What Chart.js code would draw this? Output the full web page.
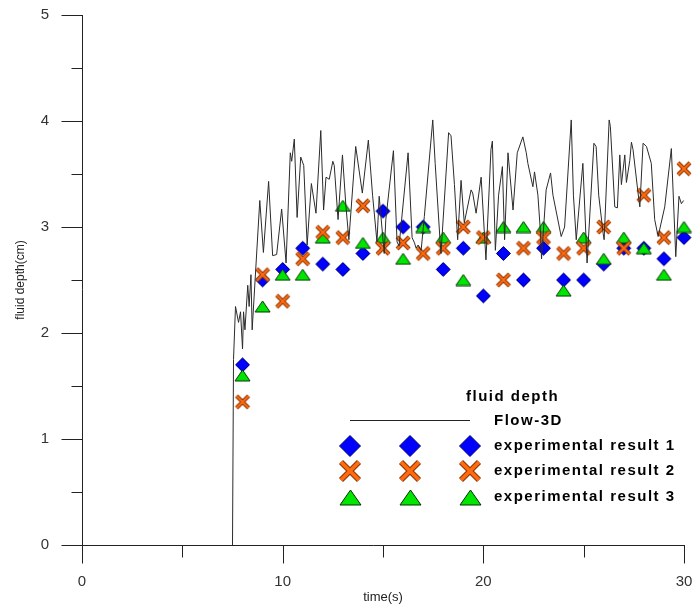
<!DOCTYPE html>
<html>
<head>
<meta charset="utf-8">
<script src="https://cdn.jsdelivr.net/npm/chart.js@4.4.0/dist/chart.umd.min.js"></script>
<style>
  html, body { margin: 0; padding: 0; background: #fff; }
  #grafico { display: block; }
</style>
</head>
<body>
<canvas id="grafico" width="696" height="607"></canvas>
<script>
// Flow-3D simulation (time in s, depth in cm)
const flowTime = [
  7.5, 7.55, 7.65, 7.8, 7.9, 8.0, 8.05, 8.12, 8.26, 8.33, 8.42, 8.48,
  8.86, 9.04, 9.3, 9.5, 9.7, 9.95, 10.17, 10.38, 10.45, 10.58, 10.72, 10.9,
  11.05, 11.22, 11.43, 11.66, 11.9, 12.04, 12.16, 12.32, 12.5, 12.57, 12.76, 12.98,
  13.15, 13.3, 13.64, 13.97, 14.27, 14.48, 14.7, 14.81, 15.06, 15.14, 15.52, 15.7,
  15.8, 16.25, 16.45, 16.57, 16.65, 16.75, 16.9, 17.06, 17.48, 17.6, 17.84, 17.89,
  18.27, 18.39, 18.56, 18.72, 18.89, 19.05, 19.39, 19.47, 19.64, 19.89, 20.13, 20.38,
  20.45, 20.6, 20.76, 20.95, 21.06, 21.23, 21.48, 21.69, 21.97, 22.14, 22.22, 22.47,
  22.55, 22.72, 22.85, 22.9, 23.13, 23.35, 23.47, 23.88, 24.05, 24.38, 24.49, 24.63,
  24.96, 25.17, 25.51, 25.62, 25.75, 25.97, 26.02, 26.27, 26.33, 26.55, 26.68, 26.8,
  26.88, 27.05, 27.13, 27.3, 27.38, 27.46, 27.71, 27.8, 27.96, 28.13, 28.37, 28.54,
  28.71, 29.04, 29.37, 29.59, 29.75, 29.87, 29.98
];
const flowDepth = [
  0, 1.75, 2.25, 2.1, 2.2, 1.85, 2.2, 2.03, 2.45, 2.25, 2.55, 2.03,
  3.25, 2.76, 3.43, 2.73, 2.74, 3.17, 2.66, 3.7, 3.62, 3.83, 3.09, 3.66,
  3.58, 2.83, 3.41, 3.13, 3.91, 3.16, 3.47, 3.45, 3.62, 3.58, 3.07, 3.68,
  3.2, 2.88, 3.76, 3.32, 3.82, 3.3, 2.86, 3.29, 2.75, 3.07, 3.72, 2.86,
  2.82, 3.7, 2.9, 2.85, 2.8, 2.83, 2.78, 3.1, 4.01, 3.6, 2.88, 2.75,
  3.89, 3.86, 3.4, 2.88, 3.44, 3.04, 3.35, 3.32, 3.13, 3.47, 2.69, 3.73,
  3.81, 2.78, 3.3, 3.57, 2.88, 3.7, 3.16, 3.7, 3.85, 3.7, 3.6, 3.38,
  3.52, 3.3, 2.94, 2.7, 3.35, 3.51, 3.3, 2.91, 3.0, 4.01, 3.3, 2.88,
  3.6, 2.66, 3.79, 3.76, 3.3, 2.94, 2.88, 4.01, 3.95, 3.19, 3.18, 3.68,
  3.4, 3.68, 3.42, 3.63, 3.8, 3.73, 3.32, 3.19, 3.79, 3.76, 3.6, 3.07,
  2.91, 3.19, 3.74, 2.72, 3.29, 3.22, 3.25
];

// experiments, one reading per second
const expTime = [8, 9, 10, 11, 12, 13, 14, 15, 16, 17, 18, 19, 20, 21, 22, 23, 24, 25, 26, 27, 28, 29, 30];
const exp1 = [1.7, 2.5, 2.6, 2.8, 2.65, 2.6, 2.75, 3.15, 3.0, 3.0, 2.6, 2.8, 2.35, 2.75, 2.5, 2.8, 2.5, 2.5, 2.65, 2.8, 2.8, 2.7, 2.9];
const exp2 = [1.35, 2.55, 2.3, 2.7, 2.95, 2.9, 3.2, 2.8, 2.85, 2.75, 2.8, 3.0, 2.9, 2.5, 2.8, 2.9, 2.75, 2.8, 3.0, 2.8, 3.3, 2.9, 3.55];
const exp3 = [1.6, 2.25, 2.55, 2.55, 2.9, 3.2, 2.85, 2.9, 2.7, 3.0, 2.9, 2.5, 2.9, 3.0, 3.0, 3.0, 2.4, 2.9, 2.7, 2.9, 2.8, 2.55, 3.0];

const xTickLabels = [0, 10, 20, 30];
const yTickLabels = [0, 1, 2, 3, 4, 5];
const legendLabels = ["Flow-3D", "experimental result 1", "experimental result 2", "experimental result 3"];

// --- marcadores desenhados em canvas ---
function losango(meia) {
  const c = document.createElement("canvas");
  const lado = Math.ceil(meia * 2) + 3;
  c.width = c.height = lado;
  const g = c.getContext("2d");
  const m = lado / 2;
  g.beginPath();
  g.moveTo(m, m - meia);
  g.lineTo(m + meia, m);
  g.lineTo(m, m + meia);
  g.lineTo(m - meia, m);
  g.closePath();
  g.fillStyle = "#0000ff";
  g.fill();
  g.strokeStyle = "#000070";
  g.lineWidth = 1;
  g.stroke();
  return c;
}

function xis(meia) {
  const c = document.createElement("canvas");
  const lado = Math.ceil(meia * 2) + 3;
  c.width = c.height = lado;
  const g = c.getContext("2d");
  const m = lado / 2;
  const d = meia - 1.5;
  g.beginPath();
  g.moveTo(m - d, m - d);
  g.lineTo(m + d, m + d);
  g.moveTo(m + d, m - d);
  g.lineTo(m - d, m + d);
  g.lineCap = "butt";
  g.strokeStyle = "#8a3400";
  g.lineWidth = meia * 0.55;
  g.stroke();
  g.strokeStyle = "#ff6a10";
  g.lineWidth = meia * 0.55 - 2;
  g.stroke();
  return c;
}

function triangulo(larg, alt) {
  const c = document.createElement("canvas");
  c.width = larg + 2;
  c.height = alt + 2;
  const g = c.getContext("2d");
  g.beginPath();
  g.moveTo(c.width / 2, 1);
  g.lineTo(c.width - 1, alt + 1);
  g.lineTo(1, alt + 1);
  g.closePath();
  g.fillStyle = "#00e600";
  g.fill();
  g.strokeStyle = "#003300";
  g.lineWidth = 1;
  g.stroke();
  return c;
}

const mkAzul = losango(7), mkLaranja = xis(7.5), mkVerde = triangulo(15, 11);
const lgAzul = losango(10.5), lgLaranja = xis(10.5), lgVerde = triangulo(21, 15);

// eixos cruzados com marcas maiores nos valores inteiros
const eixosPlugin = {
  id: "eixos",
  beforeDatasetsDraw(chart) {
    const { ctx, scales } = chart;
    const sx = scales.x, sy = scales.y;
    const x0 = Math.round(sx.getPixelForValue(0)) + 0.5;
    const y0 = Math.round(sy.getPixelForValue(0)) + 0.5;
    ctx.save();
    ctx.strokeStyle = "#222";
    ctx.lineWidth = 1;
    ctx.beginPath();
    ctx.moveTo(x0, Math.round(sy.getPixelForValue(5)));
    ctx.lineTo(x0, y0 + 18);
    ctx.moveTo(x0 - 21, y0);
    ctx.lineTo(Math.round(sx.getPixelForValue(30)) + 1, y0);
    sy.ticks.forEach((t) => {
      if (t.value === 0) return;
      const py = Math.round(sy.getPixelForValue(t.value)) + 0.5;
      const len = Number.isInteger(t.value) ? 21 : 11;
      ctx.moveTo(x0 - len, py);
      ctx.lineTo(x0, py);
    });
    sx.ticks.forEach((t) => {
      if (t.value === 0) return;
      const px = Math.round(sx.getPixelForValue(t.value)) + 0.5;
      const len = t.value % 10 === 0 ? 18 : 12;
      ctx.moveTo(px, y0);
      ctx.lineTo(px, y0 + len);
    });
    ctx.stroke();
    ctx.restore();
  },
};

// legenda com tres marcadores por linha
const legendaPlugin = {
  id: "legenda",
  afterDraw(chart) {
    const ctx = chart.ctx;
    const colX = [350, 410, 470];
    const textoX = 494;
    ctx.save();
    ctx.fillStyle = "#000";
    ctx.font = "bold 15px 'Liberation Sans', Arial, sans-serif";
    ctx.textBaseline = "middle";
    ctx.textAlign = "left";
    if ("letterSpacing" in ctx) ctx.letterSpacing = "1.5px";
    ctx.fillText("fluid depth", 466, 397);

    ctx.strokeStyle = "#222";
    ctx.lineWidth = 1;
    ctx.beginPath();
    ctx.moveTo(colX[0], 420.5);
    ctx.lineTo(colX[2], 420.5);
    ctx.stroke();
    ctx.fillText(legendLabels[0], textoX, 421);

    const linhas = [
      [lgAzul, 446],
      [lgLaranja, 471],
      [lgVerde, 497],
    ];
    linhas.forEach(([img, y], i) => {
      colX.forEach((x) => {
        ctx.drawImage(img, Math.round(x - img.width / 2), Math.round(y - img.height / 2));
      });
      ctx.fillText(legendLabels[i + 1], textoX, y);
    });
    ctx.restore();
  },
};

const pontos = (ys) => expTime.map((t, i) => ({ x: t, y: ys[i] }));

// marcas de escala invisiveis: so servem para afastar os rotulos do eixo
const gradeInvisivel = (comprimento) => ({
  display: true,
  drawOnChartArea: false,
  drawTicks: true,
  tickLength: comprimento,
  color: "rgba(0,0,0,0)",
  tickColor: "rgba(0,0,0,0)",
});

new Chart(document.getElementById("grafico"), {
  type: "scatter",
  data: {
    datasets: [
      {
        label: legendLabels[0],
        data: flowTime.map((t, i) => ({ x: t, y: flowDepth[i] })),
        showLine: true,
        borderColor: "#2b2b2b",
        borderWidth: 1,
        pointRadius: 0,
        tension: 0,
        order: 1,
        clip: false,
      },
      {
        label: legendLabels[1],
        data: pontos(exp1),
        pointStyle: mkAzul,
        pointRadius: 7,
        order: 4,
        clip: false,
      },
      {
        label: legendLabels[3],
        data: pontos(exp3),
        pointStyle: mkVerde,
        pointRadius: 7,
        order: 3,
        clip: false,
      },
      {
        label: legendLabels[2],
        data: pontos(exp2),
        pointStyle: mkLaranja,
        pointRadius: 7,
        order: 2,
        clip: false,
      },
    ],
  },
  options: {
    responsive: false,
    animation: false,
    events: [],
    layout: { padding: { top: 15, right: 12, left: 0, bottom: 0 } },
    plugins: {
      legend: { display: false },
      tooltip: { enabled: false },
    },
    scales: {
      x: {
        type: "linear",
        min: 0,
        max: 30,
        afterFit: (scale) => { scale.height = 62; },
        grid: gradeInvisivel(25),
        border: { display: false },
        ticks: {
          stepSize: 5,
          autoSkip: false,
          maxRotation: 0,
          padding: 3,
          color: "#333",
          font: { family: "'Liberation Sans', Arial, sans-serif", size: 15 },
          callback: (v) => (xTickLabels.includes(v) ? String(v) : ""),
        },
        title: {
          display: true,
          text: "time(s)",
          color: "#222",
          font: { family: "'Liberation Sans', Arial, sans-serif", size: 13 },
          padding: { top: 0, bottom: 2 },
        },
      },
      y: {
        type: "linear",
        min: 0,
        max: 5,
        afterFit: (scale) => { scale.width = 82; },
        grid: gradeInvisivel(30),
        border: { display: false },
        ticks: {
          stepSize: 0.5,
          autoSkip: false,
          padding: 3,
          color: "#333",
          font: { family: "'Liberation Sans', Arial, sans-serif", size: 15 },
          callback: (v) => (yTickLabels.includes(v) ? String(v) : ""),
        },
        title: {
          display: true,
          text: "fluid depth(cm)",
          color: "#222",
          font: { family: "'Liberation Sans', Arial, sans-serif", size: 12 },
          padding: { top: 13, bottom: 0 },
        },
      },
    },
  },
  plugins: [eixosPlugin, legendaPlugin],
});
</script>
</body>
</html>
